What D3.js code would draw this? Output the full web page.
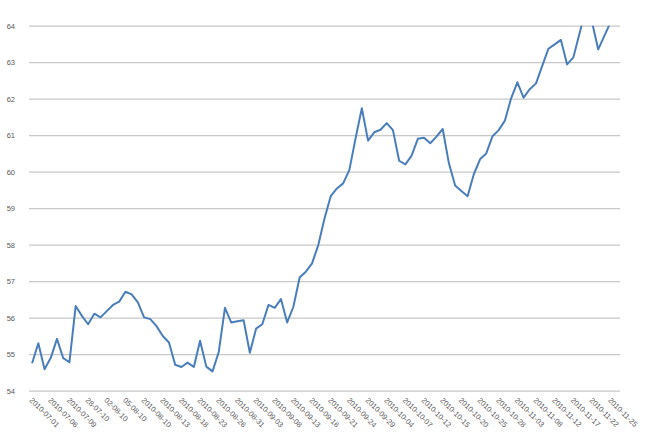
<!DOCTYPE html>
<html>
<head>
<meta charset="utf-8">
<script src="https://cdn.jsdelivr.net/npm/d3@7"></script>
<style>
  html, body { margin: 0; padding: 0; background: #ffffff; }
  svg { display: block; }
  text { font-family: "Liberation Sans", Arial, sans-serif; fill: #595959; }
</style>
</head>
<body>
<svg id="chart" width="650" height="442"></svg>
<script>
// ---- data ----
const categories = [
  "2010-07-01","2010-07-02","2010-07-05","2010-07-06","2010-07-07","2010-07-08","2010-07-09",
  "26-07-10","27-07-10","28-07-10","29-07-10","30-07-10","02-08-10","03-08-10","04-08-10","05-08-10",
  "06-08-10","09-08-10","2010-08-10","2010-08-11","2010-08-12","2010-08-13","2010-08-16","2010-08-17",
  "2010-08-18","2010-08-19","2010-08-20","2010-08-23","2010-08-24","2010-08-25","2010-08-26","2010-08-27",
  "2010-08-30","2010-08-31","2010-09-01","2010-09-02","2010-09-03","2010-09-06","2010-09-07","2010-09-08",
  "2010-09-09","2010-09-10","2010-09-13","2010-09-14","2010-09-15","2010-09-16","2010-09-17","2010-09-20",
  "2010-09-21","2010-09-22","2010-09-23","2010-09-24","2010-09-27","2010-09-28","2010-09-29","2010-09-30",
  "2010-10-01","2010-10-04","2010-10-05","2010-10-06","2010-10-07","2010-10-08","2010-10-11","2010-10-12",
  "2010-10-13","2010-10-14","2010-10-15","2010-10-18","2010-10-19","2010-10-20","2010-10-21","2010-10-22",
  "2010-10-25","2010-10-26","2010-10-27","2010-10-28","2010-10-29","2010-11-01","2010-11-03","2010-11-04",
  "2010-11-05","2010-11-08","2010-11-09","2010-11-10","2010-11-12","2010-11-15","2010-11-16","2010-11-17",
  "2010-11-18","2010-11-19","2010-11-22","2010-11-23","2010-11-24","2010-11-25","2010-11-26"
];

const values = [
  54.75,55.30,54.59,54.90,55.42,54.89,54.78,56.32,56.05,55.82,
  56.11,56.01,56.18,56.35,56.44,56.71,56.64,56.42,56.01,55.96,
  55.77,55.50,55.32,54.71,54.65,54.77,54.65,55.37,54.66,54.53,
  55.06,56.27,55.87,55.90,55.93,55.04,55.70,55.82,56.35,56.27,
  56.51,55.87,56.30,57.10,57.26,57.49,57.99,58.72,59.33,59.54,
  59.68,60.05,60.92,61.74,60.85,61.08,61.15,61.33,61.14,60.30,
  60.20,60.44,60.90,60.93,60.78,60.96,61.17,60.23,59.62,59.47,
  59.33,59.93,60.34,60.50,60.97,61.14,61.40,62.01,62.45,62.03,
  62.26,62.42,62.90,63.37,63.49,63.61,62.94,63.13,63.79,64.45,
  64.10,63.35,63.73,64.10,64.30
];

const yTicks = [54,55,56,57,58,59,60,61,62,63,64];
const yDomain = [54, 64];
const labelEvery = 3;

// ---- layout ----
const svg = d3.select("#chart");
const plot = { left: 29, right: 620, top: 25.7, bottom: 390.7 };

const x = d3.scaleBand()
  .domain(categories)
  .range([plot.left, plot.right])
  .paddingInner(0).paddingOuter(0);

const y = d3.scaleLinear().domain(yDomain).range([plot.bottom, plot.top]);

// gridlines + y labels
const yAxis = d3.axisLeft(y)
  .tickValues(yTicks)
  .tickSize(-(plot.right - plot.left))
  .tickPadding(14)
  .tickFormat(d3.format("d"));

const gy = svg.append("g")
  .attr("transform", `translate(${plot.left},0)`)
  .call(yAxis);
gy.select(".domain").remove();
gy.selectAll(".tick line")
  .attr("stroke", "#c8c8c8")
  .attr("stroke-width", 1.2);
gy.selectAll(".tick text")
  .attr("font-size", "7.5px")
  .attr("fill", "#595959");

// x labels
const labelCats = categories.filter((d, i) => i % labelEvery === 0);
const xAxis = d3.axisBottom(x)
  .tickValues(labelCats)
  .tickSize(0)
  .tickPadding(0);

const gx = svg.append("g")
  .attr("transform", `translate(0,${plot.bottom})`)
  .call(xAxis);
gx.select(".domain").remove();
gx.selectAll(".tick text")
  .attr("font-size", "7.5px")
  .attr("fill", "#595959")
  .attr("text-anchor", "start")
  .attr("dy", null)
  .attr("y", 0)
  .attr("transform", "translate(-3,10) rotate(45)");

// clip
svg.append("clipPath").attr("id", "plotclip")
  .append("rect")
  .attr("x", plot.left)
  .attr("y", plot.top)
  .attr("width", plot.right - plot.left)
  .attr("height", plot.bottom - plot.top);

const line = d3.line()
  .x((d, i) => x(categories[i]) + x.bandwidth() / 2)
  .y(d => y(d));

svg.append("path")
  .datum(values)
  .attr("clip-path", "url(#plotclip)")
  .attr("fill", "none")
  .attr("stroke", "#4a7ebb")
  .attr("stroke-width", 2)
  .attr("stroke-linejoin", "round")
  .attr("d", line);
</script>
</body>
</html>
